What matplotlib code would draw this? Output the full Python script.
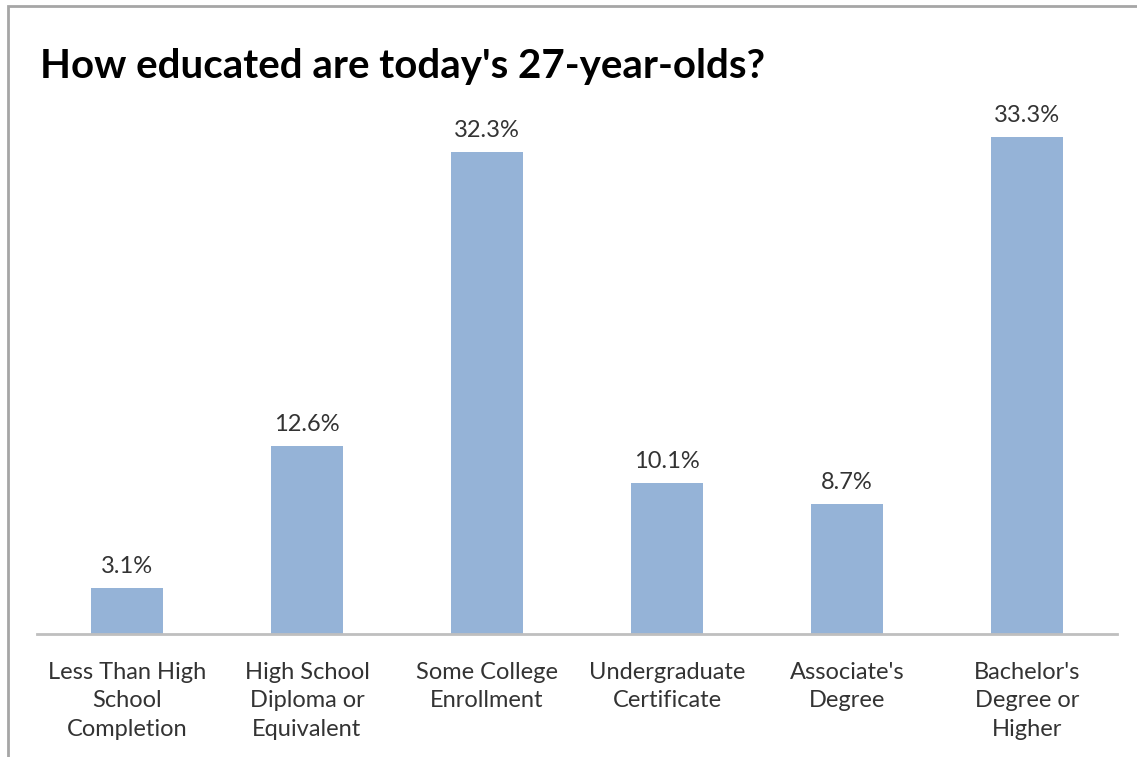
import matplotlib.pyplot as plt
from matplotlib.patches import Rectangle

categories = ["Less Than High\nSchool\nCompletion", "High School\nDiploma or\nEquivalent",
              "Some College\nEnrollment", "Undergraduate\nCertificate",
              "Associate's\nDegree", "Bachelor's\nDegree or\nHigher"]
values = [3.1, 12.6, 32.3, 10.1, 8.7, 33.3]
value_labels = ["3.1%", "12.6%", "32.3%", "10.1%", "8.7%", "33.3%"]

plt.rcParams['font.family'] = ['Lato', 'DejaVu Sans']

W, H = 1137, 757
fig = plt.figure(figsize=(W / 100, H / 100), dpi=100)

# chart frame (left and top edges visible, rest cut off)
fig.patches.append(Rectangle((8 / W, -0.05), 1.1, (H - 6) / H + 0.05, transform=fig.transFigure,
                             fill=False, edgecolor='#a6a6a6', linewidth=2))

ax = fig.add_axes([37 / W, (H - 634) / H, (1117 - 37) / W, (634 - 112) / H])
x = range(len(values))
ax.bar(x, values, width=0.4, color='#95b3d7')
ax.set_xlim(-0.5, 5.5)
ax.set_ylim(0, 35)

for xi, v, lab in zip(x, values, value_labels):
    ax.annotate(lab, (xi, v), xytext=(0, 8), textcoords='offset points',
                ha='center', va='bottom', fontsize=17, color='#333333')

ax.set_xticks(list(x))
ax.set_xticklabels(categories, fontsize=17, color='#333333', linespacing=1.45, va='top')
ax.tick_params(axis='x', length=0, pad=20)
ax.set_yticks([])
for s in ['top', 'right', 'left']:
    ax.spines[s].set_visible(False)
ax.spines['bottom'].set_color('#bfbfbf')
ax.spines['bottom'].set_linewidth(2)

fig.text(40 / W, 1 - 78 / H, "How educated are today's 27-year-olds?", fontsize=29,
         fontweight='bold', color='black', ha='left', va='baseline')

fig.savefig('out.png', dpi=100)
